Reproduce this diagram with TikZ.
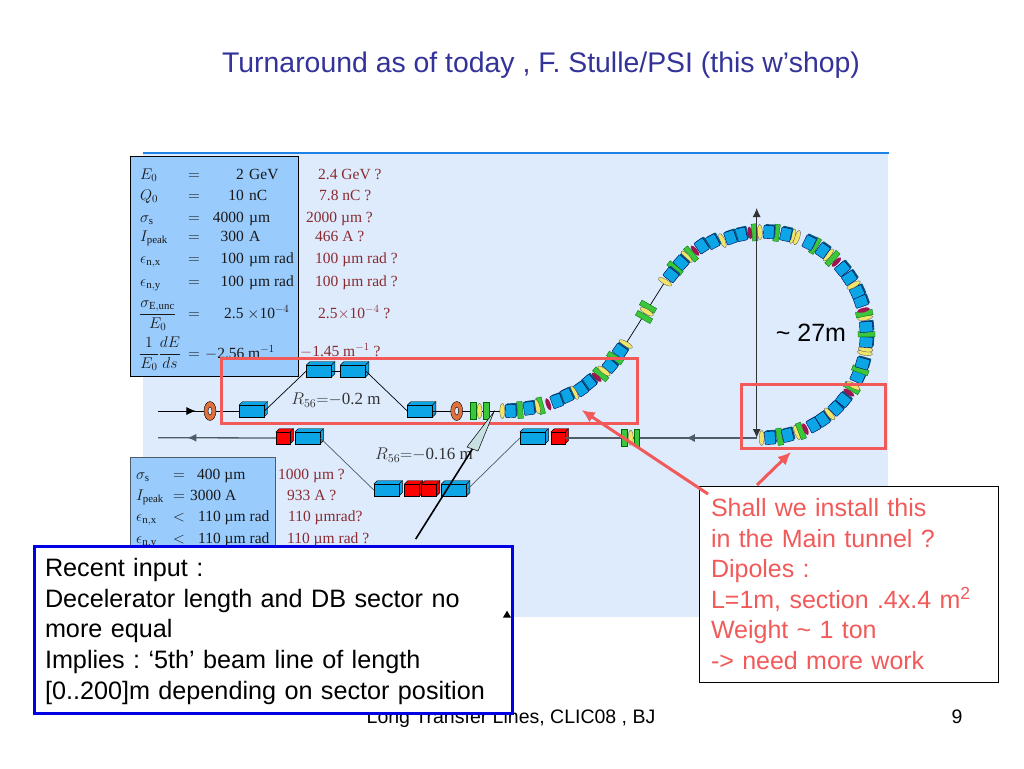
\documentclass[tikz,border=0pt]{standalone}
\usepackage{fix-cm}
\usepackage{amsmath}
\usepackage{fontspec}
\setmainfont{Liberation Serif}
\newfontfamily\arialfont{Liberation Sans}
\usetikzlibrary{positioning,calc,shapes.geometric,decorations.markings,arrows.meta,shadows}
\frenchspacing
\definecolor{panelblue}{HTML}{DDEBFD}
\definecolor{tableblue}{HTML}{99CBFC}
\definecolor{rulecol}{HTML}{1E82E6}
\definecolor{titlecol}{HTML}{333399}
\definecolor{markred}{HTML}{F25A5A}
\definecolor{magcyan}{HTML}{0CA6E6}
\definecolor{maggreen}{HTML}{3CC63C}
\definecolor{magyellow}{HTML}{F2E66A}
\definecolor{magdark}{HTML}{A01450}
\definecolor{magorange}{HTML}{E0703C}
\definecolor{askred}{HTML}{8A2A30}
\definecolor{beamgrey}{HTML}{4F5B66}
\definecolor{callfill}{HTML}{C8E0E0}
% front face, then top and side faces: name, x, y, width, colour
\newcommand{\magbox}[5]{
  \draw[thin,fill=#5] (#2-#4/2,#3-6) -- ++(3.3,-3.3) -- ++(#4,0) -- ++(0,12) -- ++(-3.3,3.3) -- cycle;
  \node[magnet,fill=#5,minimum width=#4pt] (#1) at (#2,#3) {};
  \draw[thin] (#1.north east) -- ++(3.3,-3.3);
}
\begin{document}
\begin{tikzpicture}[
x=1pt,y=-1pt,
magnet/.style={draw,thin,minimum height=12pt,inner sep=0pt},
cube/.style={draw=black!70!blue,line width=.4pt,fill=magcyan,minimum width=13pt,minimum height=10.5pt,inner sep=0pt,rounded corners=.8pt,
  general shadow={fill=magcyan!55!black,shadow xshift=1.3pt,shadow yshift=1.3pt}},
lens/.style={draw=black!70,line width=.3pt,fill=magyellow,ellipse,minimum width=15pt,minimum height=5pt,inner sep=0pt},
quad/.style={draw=black!60!green,line width=.3pt,fill=maggreen,minimum width=17pt,minimum height=5.5pt,inner sep=0pt},
kick/.style={draw=none,fill=magdark,ellipse,minimum width=13pt,minimum height=4.5pt,inner sep=0pt},
param/.style={font=\fontsize{15.5}{18}\selectfont,text=black!90,inner sep=0pt,anchor=base west},
ask/.style={param,text=askred},
redframe/.style={draw=markred,line width=3pt,outer sep=0pt},
redarrow/.style={draw=markred,line width=3pt,-{Latex[length=13pt,width=12pt]}},
beam/.style={draw=black,line width=.7pt},
greybeam/.style={draw=beamgrey,line width=1.3pt},
midtip/.style={postaction={decorate,decoration={markings,mark=at position #1 with {\arrow{Latex[length=9pt,width=8pt]}}}}},
>=latex
]
\useasboundingbox (0,0) rectangle (1024,768);
\fill[white] (0,0) rectangle (1024,768);

\node[font=\arialfont\fontsize{28.4}{30}\selectfont,text=titlecol,inner sep=0pt] (title) at (541,65.5) {Turnaround as of today , F. Stulle/PSI (this w’shop)};

% panel
\fill[panelblue] (143,153) rectangle (888,617);
\draw[rulecol,line width=2pt] (143,152.5) -- (889,152.5);

% tables
\node[draw=black,line width=1pt,fill=tableblue,anchor=north west,minimum width=168pt,minimum height=220pt] (tabtop) at (130,156) {};
\node[draw=beamgrey,line width=1pt,fill=tableblue,anchor=north west,minimum width=145pt,minimum height=95pt] (tabbot) at (130,457) {};

\foreach \rowy/\lab [count=\i] in {179/{$E_0$},200/{$Q_0$},222/{$\sigma_{\mathrm{s}}$},241/{$I_{\mathrm{peak}}$},263/{$\epsilon_{\mathrm{n,x}}$},286/{$\epsilon_{\mathrm{n,y}}$}}
  \node[param] (lab\i) at (140,\rowy) {\lab};
\foreach \rowy [count=\i] in {179,200,222,241,263,286,318,358}
  \node[param,anchor=base] (eq\i) at (194,\rowy) {$=$};
\foreach \rowy/\num/\unit [count=\i] in {179/2/GeV,200/10/nC,222/4000/µm,241/300/A,263/100/µm rad,286/100/µm rad}
{
  \node[param,anchor=base east] (num\i) at (244,\rowy) {\num};
  \node[param] (unit\i) at (249,\rowy) {\unit};
}
\node[param,anchor=base west] (fraclab) at (139,318) {$\dfrac{\sigma_{\mathrm{E,unc}}}{E_0}$};
\node[param,anchor=base west] (gradlab) at (139,358) {$\dfrac{1}{E_0}\dfrac{dE}{ds}$};
\node[param] (fracval) at (224,318) {2.5 $\times$10$^{-4}$};
\node[param] (gradval) at (205,358) {$-$2.56 m$^{-1}$};

\foreach \xx/\rowy/\txt [count=\i] in {318/179/2.4 GeV ?,319/200/7.8 nC ?,306/222/2000 µm ?,315/241/466 A ?,315/263/100 µm rad ?,315/286/100 µm rad ?}
  \node[ask] (ask\i) at (\xx,\rowy) {\txt};
\node[ask] (askfrac) at (318,318) {2.5$\times$10$^{-4}$ ?};
\node[ask] (askgrad) at (300,356) {$-$1.45 m$^{-1}$ ?};

\node[param] (lowlaba) at (136,479) {$\sigma_{\mathrm{s}}$};
\node[param] (lowlabb) at (136,500) {$I_{\mathrm{peak}}$};
\node[param] (lowlabc) at (136,521) {$\epsilon_{\mathrm{n,x}}$};
\node[param] (lowlabd) at (136,543) {$\epsilon_{\mathrm{n,y}}$};
\node[param,anchor=base] (loweqa) at (179,479) {$=$};
\node[param,anchor=base] (loweqb) at (179,500) {$=$};
\node[param,anchor=base] (loweqc) at (179,521) {$<$};
\node[param,anchor=base] (loweqd) at (179,543) {$<$};
\node[param] (lowvala) at (197,479) {400 µm};
\node[param] (lowvalb) at (190,500) {3000 A};
\node[param] (lowvalc) at (198,521) {110 µm rad};
\node[param] (lowvald) at (198,543) {110 µm rad};
\node[ask] (lowaska) at (278,479) {1000 µm ?};
\node[ask] (lowaskb) at (287,500) {933 A ?};
\node[ask] (lowaskc) at (288,521) {110 µmrad?};
\node[ask] (lowaskd) at (287,543) {110 µm rad ?};

% beam lines
\coordinate (inbeam) at (158,411);
\coordinate (outbeam) at (158,437.7);
\coordinate (ringtop) at (756.7,208);
\coordinate (ringbot) at (756.7,438);
\draw[beam,midtip=.72] (inbeam) -- (210,411) coordinate (orlc);
\draw[beam] (orlc) -- (251.7,411);
\magbox{ma}{251.7}{411}{25}{magcyan}
\magbox{mb}{319}{371}{25}{magcyan}
\magbox{mc}{353}{371}{25}{magcyan}
\magbox{md}{420}{411}{25}{magcyan}
\magbox{ra}{283}{438}{14}{red}
\magbox{ca}{307.5}{438}{25}{magcyan}
\magbox{cb}{386.5}{490}{25}{magcyan}
\magbox{rb}{412}{490}{15}{red}
\magbox{rc}{429}{490}{15}{red}
\magbox{cc}{454}{490}{25}{magcyan}
\magbox{ce}{532.5}{438}{25}{magcyan}
\magbox{rd}{558}{438}{14}{red}

\draw[beam] (ma.east) -- (mb.west);
\draw[beam] (mb) -- (mc);
\draw[beam] (mc.east) -- (md.west);
\draw[beam] (md) -- (502,411);
\draw[greybeam,midtip=.75] (ra) -- (outbeam);
\draw[greybeam,midtip=.37] (ringbot) -- (rd);
\draw[beam,draw=beamgrey] (ca.east) -- (cb.west);
\draw[beam,draw=beamgrey] (cc.east) -- (ce.west);
\draw[beam] (665,281.7) -- (625.7,344);

\node[draw,thin,fill=magorange,ellipse,minimum width=12pt,minimum height=19pt,inner sep=0pt] (orla) at (210,411) {};
\node[draw,thin,fill=panelblue,ellipse,minimum width=4pt,minimum height=8pt,inner sep=0pt] (orlb) at (210,411) {};
\node[draw,thin,fill=magorange,ellipse,minimum width=12pt,minimum height=19pt,inner sep=0pt] (orra) at (456.7,411) {};
\node[draw,thin,fill=panelblue,ellipse,minimum width=4pt,minimum height=8pt,inner sep=0pt] (orrb) at (456.7,411) {};

\foreach \kind/\xx/\rr/\nm in {quad/473.3/90/gla,quad/486/90/glc,lens/479.5/90/glb}
  \node[\kind,rotate=\rr] (\nm) at (\xx,411) {};
\foreach \kind/\xx/\rr/\nm in {quad/624.3/90/gra,quad/636.7/90/grc,lens/630.7/90/grb}
  \node[\kind,rotate=\rr] (\nm) at (\xx,437.7) {};

% ring, angle around the centre
\foreach \kind/\ang [count=\i] in {lens/-91,cube/-86.4,quad/-81,cube/-76.5,lens/-71,quad/-68.7,kick/-66,cube/-61,cube/-55,lens/-50,cube/-45.5,cube/-39,kick/-34,quad/-31,lens/-29.5,cube/-24,quad/-20,cube/-16,lens/-10,lens/-8,cube/-4,quad/.5,cube/4.5,lens/9.6,quad/12,kick/14,cube/19,cube/24.7,lens/29,cube/33.6,cube/40,kick/45,quad/48,lens/51,cube/55,quad/60,cube/63.7,lens/71,lens/73.6,cube/77.5,quad/82.7,cube/87,lens/92,quad/95,kick/97.6,cube/102.5,cube/108.7,lens/113.5}
  \node[\kind,rotate=\ang] (ring\i) at ($(763.5,335)+(\ang:103 and -103)$) {};

% way out of the ring, down to the straight part
\foreach \kind/\xx/\yy/\ang/\nm in {
  cube/712.7/241.7/118/ta,cube/701.7/246/124/tb,kick/695/250.7/129/tc,quad/691/254/131/td,
  lens/686.7/256.7/134/te,cube/681/262.7/138/tf,quad/675/268.3/140/tg,cube/671/275/142/th,
  lens/665/281.7/150/ti,quad/648/306.7/150/tj,quad/644/317/150/tl,lens/646.7/311.7/150/tk,
  lens/625.7/344/150/tm,cube/620/351/145/tn,quad/615/358/148/to,cube/610/365.7/140/tp,
  quad/600.7/374.3/140/tr,lens/604/371/142/tq,kick/596.7/377.3/138/ts,cube/589/382.3/130/tt,
  cube/581/389/125/tu,lens/574.3/392.7/118/tv,cube/566.7/395.7/115/tw,cube/556.7/401/110/tx,
  kick/548.3/404.3/110/ty,quad/540.7/405.7/105/tz,lens/537.3/406.7/105/ua,cube/529/408.3/98/ub,
  quad/520/410/95/uc,cube/510.7/411/92/ud,lens/502.3/411/90/ue}
  \node[\kind,rotate=\ang] (\nm) at (\xx,\yy) {};

\draw[draw=black!80,line width=1pt,{Latex[length=9pt,width=8pt]}-{Latex[length=9pt,width=8pt]}] (ringtop) -- (ringbot);
\node[font=\arialfont\fontsize{25}{28}\selectfont,inner sep=0pt] (height) at (811,333) {\textasciitilde{} 27m};

\node[font=\fontsize{17}{20}\selectfont,text=black!80,inner sep=0pt] (rfirst) at (336,400) {$R_{56}{=}{-}$0.2 m};
\node[font=\fontsize{17}{20}\selectfont,text=black!80,inner sep=0pt] (rsecond) at (424,455) {$R_{56}{=}{-}$0.16 m};

% frames
\node[redframe,anchor=north west,minimum width=416pt,minimum height=65pt] (framea) at (221,358) {};
\node[redframe,anchor=north west,minimum width=144pt,minimum height=64pt] (frameb) at (741,384) {};

% callout
\coordinate (calltip) at (494,411.7);
\coordinate (calltail) at (415.7,539);
\draw[black,line width=1.6pt] (calltail) -- (473,448);
\draw[black,line width=.5pt,fill=callfill] (calltip) -- (467,447) -- (478,451) -- cycle;

% question box
\node[draw=black,line width=.6pt,outer sep=0pt,fill=white,text=markred,anchor=north west,minimum width=299pt,minimum height=196pt,inner xsep=12pt,inner ysep=0pt,text width=275pt,align=left,font=\arialfont\fontsize{25}{30.6}\selectfont] (shall) at (699,486) {\rule{0pt}{18pt}Shall we install this\\in the Main tunnel ?\\Dipoles :\\L=1m, section .4x.4 m\textsuperscript{2}\\Weight \textasciitilde{} 1 ton\\-> need more work};
\coordinate (arrowfrom) at ($(shall.north west)+(9,8)$);
\coordinate (arrowto) at (581.7,410);
\coordinate (arrowup) at (757,485);
\coordinate (arrowend) at (791,452);
\draw[redarrow] (arrowfrom) -- (arrowto);
\draw[redarrow] (arrowup) -- (arrowend);

% footer
\node[font=\arialfont\fontsize{19.5}{22}\selectfont,inner sep=0pt] (footer) at (511,718) {Long Transfer Lines, CLIC08 , BJ};
\node[font=\arialfont\fontsize{19.5}{22}\selectfont,inner sep=0pt] (pagenum) at (957,717) {9};

% input box
\node[draw=blue!90!black,line width=3pt,outer sep=0pt,fill=white,anchor=north west,minimum width=478pt,minimum height=167pt,inner xsep=11pt,inner ysep=0pt,text width=456pt,align=left,font=\arialfont\fontsize{25.2}{30.6}\selectfont] (inputbox) at (34,546) {\rule{0pt}{22pt}Recent input :\\Decelerator length and DB sector no\\more equal\\Implies : ‘5th’ beam line of length\\{[0..200]}m depending on sector position};
\fill[black] (503,617.5) -- (507,610.7) -- (511,617.5) -- cycle;
\end{tikzpicture}
\end{document}
